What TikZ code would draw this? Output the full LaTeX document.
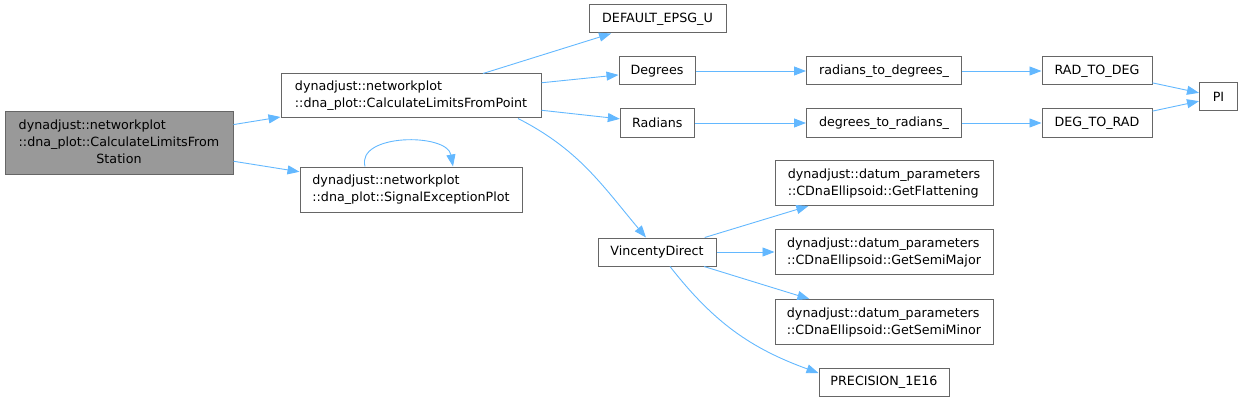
\documentclass[tikz,border=0pt]{standalone}
\usepackage{fontspec}
\setmainfont{DejaVu Sans}
\usetikzlibrary{arrows.meta, positioning}
\definecolor{cedge}{HTML}{63B8FF}
\definecolor{cborder}{HTML}{666666}
\definecolor{cmain}{HTML}{999999}
\tikzset{
  every picture/.style={x=1pt, y=-1pt, font=\fontsize{12.7}{17}\selectfont},
  fn/.style={draw=cborder, fill=white, line width=1pt, inner sep=0pt, minimum height=28pt, align=left},
  call/.style={-{Triangle[length=12pt, width=9pt]}, draw=cedge, line width=0.9pt},
}

\begin{document}
\begin{tikzpicture}
  \useasboundingbox (0,0) rectangle (1244,401);
  % caller and first level
  \node[fn, fill=cmain, minimum width=228pt, minimum height=62pt] (main) at (119,143)
    {\begin{tabular}{@{}l@{}}dynadjust::networkplot\\::dna\_plot::CalculateLimitsFrom\\\multicolumn{1}{@{}c@{}}{Station}\end{tabular}};
  \node[fn, minimum width=260pt, minimum height=44pt] (calcpt) at (411,96) {dynadjust::networkplot\\::dna\_plot::CalculateLimitsFromPoint};
  \node[fn, minimum width=222pt, minimum height=45pt] (signal) at (411,189.5) {dynadjust::networkplot\\::dna\_plot::SignalExceptionPlot};
  % one-line callees
  \foreach \n/\x/\y/\w/\t in {epsg/657.5/19/137/DEFAULT\_EPSG\_U, deg/657/71/76/Degrees, rad/657.3/123/74/Radians,
      vinc/657/252/118/VincentyDirect, rtod/884/71/155/radians\_to\_degrees\_, dtor/884/123/155/degrees\_to\_radians\_,
      prec/884/382/130/PRECISION\_1E16, radtodeg/1097/71/110/RAD\_TO\_DEG, degtorad/1097/123/110/DEG\_TO\_RAD, pi/1218.5/97/38/PI}
    \node[fn, minimum width=\w pt] (\n) at (\x,\y) {\t};
  % ellipsoid getters
  \foreach \n/\y/\t in {flat/183/GetFlattening, smaj/252/GetSemiMajor, smin/322/GetSemiMinor}
    \node[fn, minimum width=218pt, minimum height=45pt] (\n) at (884,\y) {dynadjust::datum\_parameters\\::CDnaEllipsoid::\t};

  \draw[call] (main) -- (calcpt);
  \draw[call] (main) -- (signal);
  \draw[call] ([xshift=-46pt]signal.north) to[out=105, in=100] ([xshift=42pt]signal.north);
  \foreach \b in {epsg, deg, rad}
    \draw[call] (calcpt) -- (\b);
  \draw[call] ([xshift=107pt]calcpt.south) to[out=-27, in=130] ([xshift=-11pt]vinc.north);
  \draw[call] (deg) -- (rtod);
  \draw[call] (rad) -- (dtor);
  \draw[call] (rtod) -- (radtodeg);
  \draw[call] (dtor) -- (degtorad);
  \draw[call] (radtodeg) -- (pi);
  \draw[call] (degtorad) -- (pi);
  \foreach \b in {flat, smaj, smin}
    \draw[call] (vinc) -- (\b);
  \draw[call] ([xshift=13pt]vinc.south) to[out=-52, in=160] ([yshift=9pt]prec.west);
\end{tikzpicture}
\end{document}
